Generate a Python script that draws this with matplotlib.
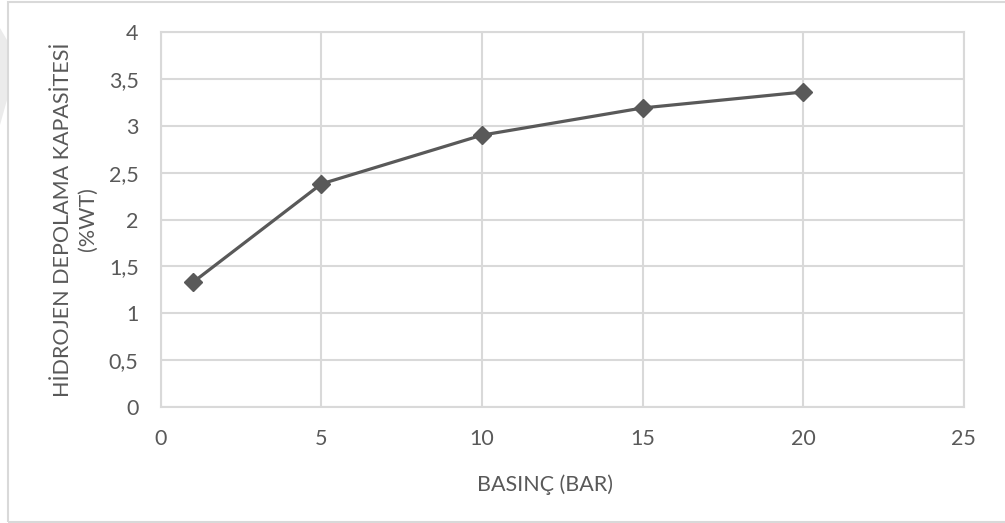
import matplotlib.pyplot as plt
from matplotlib.patches import Rectangle, Polygon

# pressure (bar) vs hydrogen storage capacity (%wt)
pressure = [1, 5, 10, 15, 20]
capacity = [1.33, 2.38, 2.90, 3.19, 3.36]

x_ticks = [0, 5, 10, 15, 20, 25]
y_ticks = [0, 0.5, 1, 1.5, 2, 2.5, 3, 3.5, 4]

TEXT = "#595959"
GRID = "#d9d9d9"
FS = 15.5

plt.rcParams['font.family'] = ['Lato', 'DejaVu Sans']

fig = plt.figure(figsize=(10.05, 5.23), dpi=100)
ax = fig.add_axes([0.160, 0.2218, 0.799, 0.7170])

ax.plot(pressure, capacity, color=TEXT, linewidth=2.3, marker="D",
        markersize=9, zorder=3)

ax.set_xlim(0, 25)
ax.set_ylim(0, 4)
ax.set_xticks(x_ticks)
ax.set_yticks(y_ticks)
ax.set_xticklabels([str(v) for v in x_ticks])
ax.set_yticklabels([("%g" % v).replace(".", ",") for v in y_ticks])
ax.tick_params(length=0, labelsize=FS, colors=TEXT)
ax.tick_params(axis="x", pad=16)
ax.tick_params(axis="y", pad=16)
ax.grid(True, color=GRID, linewidth=1.5)
ax.set_axisbelow(True)
for s in ax.spines.values():
    s.set_color(GRID)
    s.set_linewidth(1.5)

ax.set_xlabel("BASINÇ (BAR)", fontsize=FS, color=TEXT, labelpad=18)
ax.xaxis.label.set_x(0.479)
ax.set_ylabel("HİDROJEN DEPOLAMA KAPASİTESİ\n(%WT)", fontsize=FS,
              color=TEXT, labelpad=8, linespacing=1.3)

# chart frame and faint mark on the left edge
fig.patches.append(Polygon([(0, 1 - 28 / 523), (7 / 1005, 1 - 40 / 523),
                            (7 / 1005, 1 - 100 / 523), (0, 1 - 125 / 523)],
                           transform=fig.transFigure, facecolor="#ebebeb",
                           edgecolor="none"))
fig.patches.append(Rectangle((8 / 1005, 1.5 / 523), 1.2, 519.5 / 523,
                             transform=fig.transFigure, fill=False,
                             edgecolor=GRID, linewidth=1.5))

fig.savefig("out.png", dpi=100)
